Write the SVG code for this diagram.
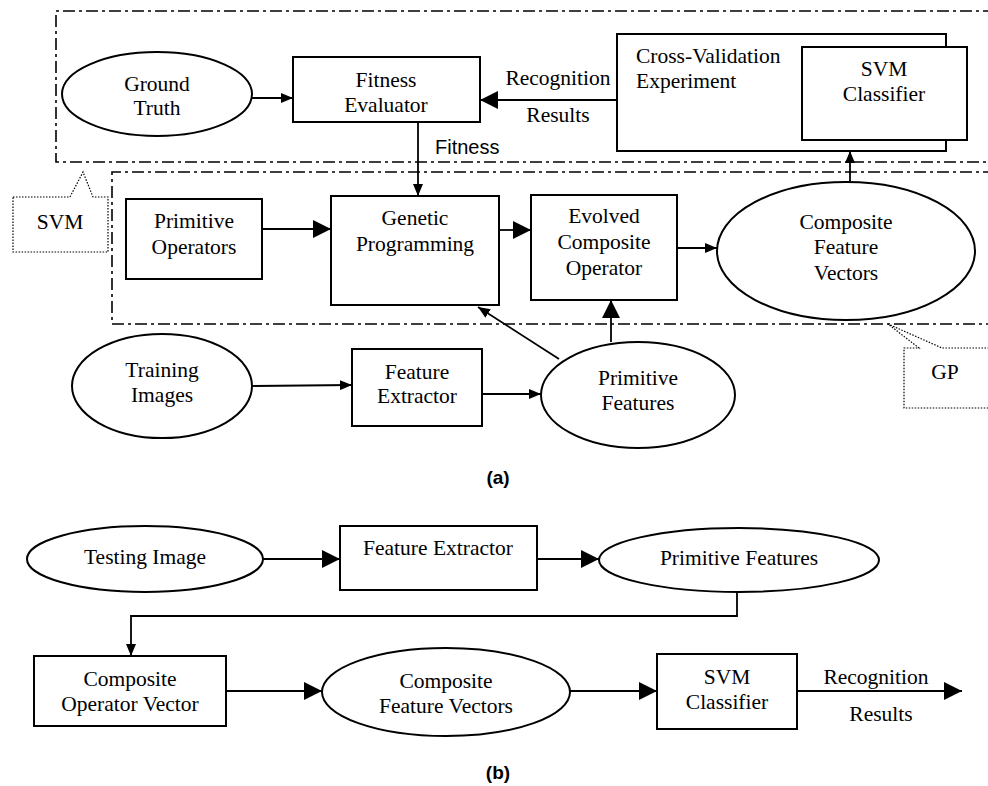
<svg xmlns="http://www.w3.org/2000/svg" width="988" height="786" viewBox="0 0 988 786">
<defs>
<marker id="big" viewBox="0 0 18 18" refX="18" refY="9" markerWidth="18" markerHeight="18" markerUnits="userSpaceOnUse" orient="auto"><path d="M0,0 L18,9 L0,18 z" fill="#000"/></marker>
<marker id="small" viewBox="0 0 12 10" refX="12" refY="5" markerWidth="12" markerHeight="10" markerUnits="userSpaceOnUse" orient="auto"><path d="M0,0 L12,5 L0,10 z" fill="#000"/></marker>
</defs>
<style>
.n{fill:#fff;stroke:#000;stroke-width:2}
.t{font-family:"Liberation Serif","Times New Roman",serif;font-size:21.5px;fill:#000;text-anchor:middle}
.tl{font-family:"Liberation Serif","Times New Roman",serif;font-size:21.5px;fill:#000}
.s{font-family:"Liberation Sans",Arial,sans-serif;font-size:20px;fill:#000}
.lab{font-family:"Liberation Sans",Arial,sans-serif;font-size:19px;font-weight:bold;fill:#000;text-anchor:middle}
.c{fill:none;stroke:#000;stroke-width:1.8}
.dd{fill:none;stroke:#000;stroke-width:1.6;stroke-dasharray:12 4 3 4}
.dot{fill:#fff;stroke:#000;stroke-width:1.2;stroke-dasharray:1.5 1.5}
</style>
<rect width="988" height="786" fill="#fff"/>

<g id="regions">
<path class="dd" d="M995,11 H56 V162 H995"/>
<path class="dd" d="M995,172 H112 V324 H995"/>
</g>

<g id="callout-svm">
<path class="dot" d="M13,197 H70 L83,172 L93,197 H108 V252 H13 Z"/>
<text class="tl" x="60" y="229" text-anchor="middle">SVM</text>
</g>
<g id="callout-gp">
<path class="dot" d="M995,348 H942 L888,324 L919,348 H904 V408 H995"/>
<text class="tl" x="945" y="379" text-anchor="middle">GP</text>
</g>

<g id="ground-truth">
<ellipse class="n" cx="157" cy="94" rx="95" ry="42"/>
<text class="t" x="157" y="91">Ground</text><text class="t" x="157" y="115">Truth</text>
</g>
<g id="fitness-evaluator">
<rect class="n" x="293" y="57" width="187" height="65"/>
<text class="t" x="386" y="87">Fitness</text><text class="t" x="386" y="112">Evaluator</text>
</g>
<g id="cross-validation">
<rect class="n" x="617" y="34" width="329" height="117"/>
<text class="tl" x="636" y="63">Cross-Validation</text><text class="tl" x="636" y="88">Experiment</text>
</g>
<g id="svm-classifier-a">
<rect class="n" x="802" y="47" width="165" height="93"/>
<text class="t" x="884" y="76">SVM</text><text class="t" x="884" y="101">Classifier</text>
</g>
<g id="primitive-operators">
<rect class="n" x="126" y="199" width="136" height="80"/>
<text class="t" x="194" y="228">Primitive</text><text class="t" x="194" y="254">Operators</text>
</g>
<g id="genetic-programming">
<rect class="n" x="331" y="196" width="168" height="109"/>
<text class="t" x="415" y="225">Genetic</text><text class="t" x="415" y="251">Programming</text>
</g>
<g id="evolved-composite-operator">
<rect class="n" x="531" y="195" width="146" height="105"/>
<text class="t" x="604" y="223">Evolved</text><text class="t" x="604" y="249">Composite</text><text class="t" x="604" y="275">Operator</text>
</g>
<g id="composite-feature-vectors-a">
<ellipse class="n" cx="846" cy="251" rx="129" ry="69"/>
<text class="t" x="846" y="229">Composite</text><text class="t" x="846" y="254">Feature</text><text class="t" x="846" y="280">Vectors</text>
</g>
<g id="training-images">
<ellipse class="n" cx="162" cy="386" rx="90" ry="52"/>
<text class="t" x="162" y="377">Training</text><text class="t" x="162" y="402">Images</text>
</g>
<g id="feature-extractor-a">
<rect class="n" x="352" y="349" width="130" height="77"/>
<text class="t" x="417" y="379">Feature</text><text class="t" x="417" y="403">Extractor</text>
</g>
<g id="primitive-features-a">
<ellipse class="n" cx="638" cy="395" rx="97" ry="53"/>
<text class="t" x="638" y="385">Primitive</text><text class="t" x="638" y="410">Features</text>
</g>
<text class="lab" x="498" y="484">(a)</text>

<g id="testing-image">
<ellipse class="n" cx="145" cy="559" rx="118" ry="33"/>
<text class="t" x="145" y="564">Testing Image</text>
</g>
<g id="feature-extractor-b">
<rect class="n" x="340" y="526" width="197" height="64"/>
<text class="t" x="438" y="555">Feature Extractor</text>
</g>
<g id="primitive-features-b">
<ellipse class="n" cx="739" cy="560" rx="140" ry="32"/>
<text class="t" x="739" y="565">Primitive Features</text>
</g>
<g id="composite-operator-vector">
<rect class="n" x="34" y="656" width="192" height="70"/>
<text class="t" x="130" y="686">Composite</text><text class="t" x="130" y="711">Operator Vector</text>
</g>
<g id="composite-feature-vectors-b">
<ellipse class="n" cx="446" cy="692" rx="124" ry="44"/>
<text class="t" x="446" y="688">Composite</text><text class="t" x="446" y="713">Feature Vectors</text>
</g>
<g id="svm-classifier-b">
<rect class="n" x="657" y="654" width="140" height="75"/>
<text class="t" x="727" y="684">SVM</text><text class="t" x="727" y="709">Classifier</text>
</g>
<text class="lab" x="498" y="779">(b)</text>

<g id="connectors">
<line class="c" x1="252" y1="98" x2="293" y2="98" marker-end="url(#small)"/>
<line class="c" x1="617" y1="100" x2="480" y2="100" marker-end="url(#big)"/>
<text class="t" x="558" y="85">Recognition</text>
<text class="t" x="558" y="122">Results</text>
<line class="c" x1="418" y1="122" x2="418" y2="196" marker-end="url(#small)"/>
<text class="s" x="435" y="154">Fitness</text>
<line class="c" x1="262" y1="229" x2="331" y2="229" marker-end="url(#big)"/>
<line class="c" x1="499" y1="230" x2="531" y2="230" marker-end="url(#big)"/>
<line class="c" x1="677" y1="248" x2="717" y2="248" marker-end="url(#small)"/>
<line class="c" x1="850" y1="182" x2="850" y2="151" marker-end="url(#small)"/>
<line class="c" x1="611" y1="342" x2="611" y2="300" marker-end="url(#big)"/>
<line class="c" x1="559" y1="359" x2="478" y2="307" marker-end="url(#small)"/>
<line class="c" x1="252" y1="386" x2="352" y2="385" marker-end="url(#small)"/>
<line class="c" x1="482" y1="394" x2="541" y2="394" marker-end="url(#small)"/>

<line class="c" x1="263" y1="559" x2="340" y2="559" marker-end="url(#big)"/>
<line class="c" x1="537" y1="559" x2="599" y2="559" marker-end="url(#big)"/>
<path class="c" d="M737,592 V616 H131 V656" marker-end="url(#small)"/>
<line class="c" x1="226" y1="691" x2="322" y2="691" marker-end="url(#big)"/>
<line class="c" x1="570" y1="691" x2="657" y2="691" marker-end="url(#big)"/>
<line class="c" x1="797" y1="691" x2="962" y2="691" marker-end="url(#big)"/>
<text class="t" x="876" y="684">Recognition</text>
<text class="t" x="881" y="721">Results</text>
</g>
</svg>
